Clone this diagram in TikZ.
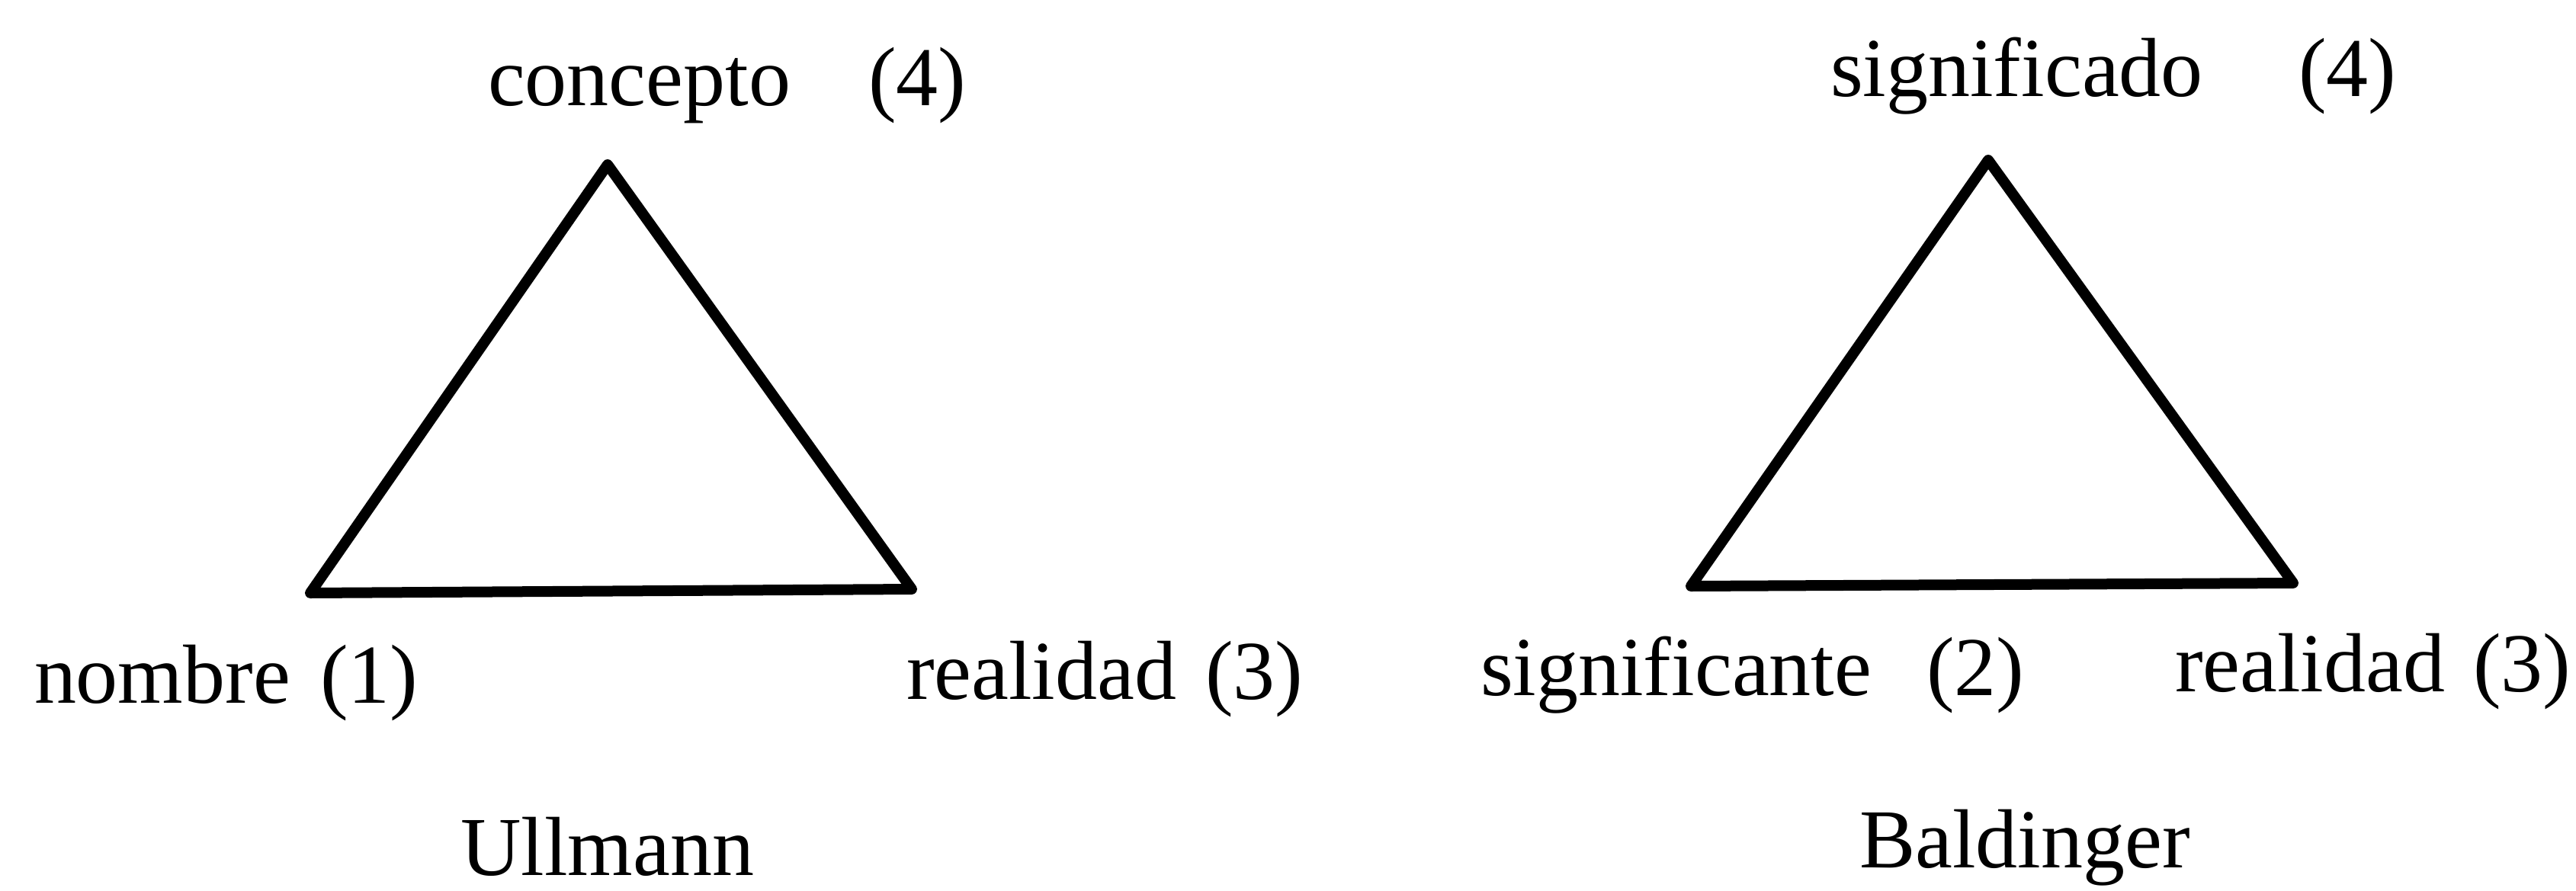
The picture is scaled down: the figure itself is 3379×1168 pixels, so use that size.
\documentclass[tikz,border=0pt]{standalone}
\usepackage{fontspec}
\setmainfont{Liberation Serif}
\begin{document}
\begin{tikzpicture}[x=1pt,y=-1pt,
  lbl/.style={anchor=base west,inner sep=0pt,outer sep=0pt,font=\fontsize{110}{130}\selectfont},
  edge/.style={line width=14pt,line join=round,line cap=round,black}]
\useasboundingbox (0,0) rectangle (3379,1168);
% left triangle (Ullmann)
\coordinate (ua) at (797,216);
\coordinate (ul) at (407,778);
\coordinate (ur) at (1196,773);
\draw[edge] (ua) -- (ul) -- (ur) -- cycle;
\node[lbl] (uconc) at (640,138) {concepto};
\node[lbl] (uconcn) at (1139,138) {(4)};
\node[lbl] (unom) at (45,922) {nombre};
\node[lbl] (unomn) at (420,922) {(1)};
\node[lbl] (ureal) at (1189,917) {realidad};
\node[lbl] (urealn) at (1581,917) {(3)};
\node[lbl] (uname) at (604,1148) {Ullmann};
% right triangle (Baldinger)
\coordinate (ba) at (2608,210);
\coordinate (bl) at (2218,769);
\coordinate (br) at (3008,765);
\draw[edge] (ba) -- (bl) -- (br) -- cycle;
\node[lbl] (bsig) at (2401,126) {significado};
\node[lbl] (bsign) at (3015,126) {(4)};
\node[lbl] (bsnte) at (1942,912) {significante};
\node[lbl] (bsnten) at (2527,912) {(2)};
\node[lbl] (breal) at (2853,907) {realidad};
\node[lbl] (brealn) at (3244,907) {(3)};
\node[lbl] (bname) at (2439,1138) {Baldinger};
\end{tikzpicture}
\end{document}
